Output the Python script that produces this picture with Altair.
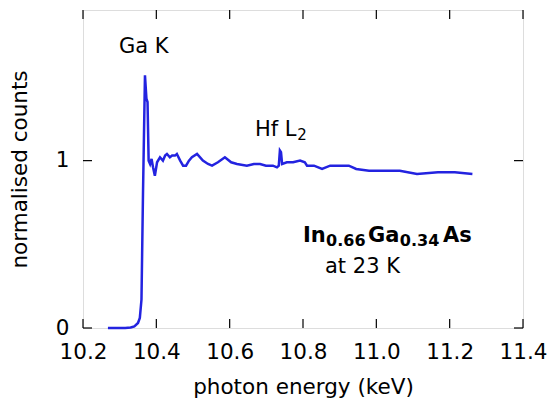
import altair as alt
import pandas as pd

# spectrum (photon energy keV, normalised counts)
energy = [10.268, 10.287, 10.315, 10.330, 10.340, 10.350, 10.355, 10.3595, 10.3636, 10.369,
          10.373, 10.376, 10.379, 10.383, 10.387, 10.391, 10.396, 10.402, 10.410,
          10.418, 10.424, 10.429, 10.437, 10.443, 10.451, 10.456, 10.465, 10.473,
          10.481, 10.489, 10.497, 10.511, 10.527, 10.541, 10.552, 10.568, 10.587,
          10.604, 10.620, 10.647, 10.666, 10.683, 10.699, 10.718, 10.729, 10.734,
          10.737, 10.740, 10.743, 10.756, 10.773, 10.792, 10.805, 10.811, 10.830,
          10.852, 10.874, 10.898, 10.925, 10.945, 10.980, 11.026, 11.064, 11.111,
          11.168, 11.214, 11.262]
counts = [0.0, 0.0, 0.0, 0.003, 0.01, 0.03, 0.06, 0.17, 0.80, 1.51,
          1.37, 1.35, 1.00, 0.98, 1.01, 0.96, 0.91, 0.99, 1.02,
          1.00, 1.03, 1.04, 1.02, 1.03, 1.03, 1.04, 1.00, 0.97,
          0.97, 1.00, 1.02, 1.04, 1.00, 0.98, 0.97, 0.99, 1.02,
          0.99, 0.98, 0.97, 0.98, 0.98, 0.97, 0.97, 0.96, 0.97,
          1.06, 1.05, 0.98, 0.99, 0.99, 1.00, 0.99, 0.97, 0.97,
          0.95, 0.97, 0.97, 0.97, 0.95, 0.94, 0.94, 0.94, 0.92,
          0.93, 0.93, 0.92]

x_ticks = [10.2, 10.4, 10.6, 10.8, 11.0, 11.2, 11.4]
y_ticks = [0, 1]

# annotations
ann_text = ["Ga K", "Hf L", "2", "In", "0.66", "Ga", "0.34", "As", "at 23 K"]
ann_x = [10.298, 10.669, 10.784, 10.800, 10.863, 10.977, 11.064, 11.182, 10.860]
ann_y = [1.643, 1.149, 1.125, 0.512, 0.488, 0.512, 0.488, 0.512, 0.327]
ann_size = [21, 21, 15, 21, 16, 21, 16, 21, 21]
ann_weight = ["normal", "normal", "normal", "bold", "bold", "bold", "bold", "bold", "normal"]

W, H = 440, 318
FONT = "DejaVu Sans"
FS = 21.5

df = pd.DataFrame({"E": energy, "c": counts})
xdf = pd.DataFrame({"t": x_ticks})
ydf = pd.DataFrame({"t": y_ticks})
adf = pd.DataFrame({"text": ann_text, "x": ann_x, "y": ann_y,
                    "size": ann_size, "weight": ann_weight})

xs = alt.Scale(domain=[10.2, 11.4], nice=False, zero=False)
ys = alt.Scale(domain=[0, 1.9], nice=False)

line = alt.Chart(df).mark_line(color="#2323e0", strokeWidth=2.5).encode(
    x=alt.X("E:Q", scale=xs, title="photon energy (keV)",
            axis=alt.Axis(values=x_ticks, format=".1f", tickSize=0, domain=False,
                          grid=False, labelFontSize=FS, labelFont=FONT,
                          labelColor="black", labelPadding=13, labelFlush=False,
                          labelOverlap=False,
                          titleFont=FONT, titleFontSize=FS, titleFontWeight="normal",
                          titleColor="black", titlePadding=14)),
    y=alt.Y("c:Q", scale=ys, title="normalised counts",
            axis=alt.Axis(values=y_ticks, format="d", tickSize=0, domain=False,
                          grid=False, labelFontSize=FS, labelFont=FONT,
                          labelColor="black", labelPadding=14, labelFlush=False,
                          titleFont=FONT, titleFontSize=FS, titleFontWeight="normal",
                          titleColor="black", titlePadding=24)),
)

tick_len = 9
xb = alt.Chart(xdf).mark_rule(color="black", strokeWidth=1.2).encode(
    x=alt.X("t:Q", scale=xs), y=alt.value(H), y2=alt.value(H - tick_len))
xt = alt.Chart(xdf).mark_rule(color="black", strokeWidth=1.2).encode(
    x=alt.X("t:Q", scale=xs), y=alt.value(0), y2=alt.value(tick_len))
yl = alt.Chart(ydf).mark_rule(color="black", strokeWidth=1.2).encode(
    y=alt.Y("t:Q", scale=ys), x=alt.value(0), x2=alt.value(tick_len))
yr = alt.Chart(ydf).mark_rule(color="black", strokeWidth=1.2).encode(
    y=alt.Y("t:Q", scale=ys), x=alt.value(W), x2=alt.value(W - tick_len))

texts = []
for wt in ["normal", "bold"]:
    for sz in sorted(set(ann_size)):
        sub = adf[(adf["weight"] == wt) & (adf["size"] == sz)]
        if len(sub) == 0:
            continue
        texts.append(alt.Chart(sub).mark_text(
            align="left", baseline="alphabetic", font=FONT, fontSize=sz,
            fontWeight=wt, color="black").encode(
            x=alt.X("x:Q", scale=xs), y=alt.Y("y:Q", scale=ys), text="text:N"))

chart = alt.layer(line, xb, xt, yl, yr, *texts).properties(
    width=W, height=H,
    autosize=alt.AutoSizeParams(type="none"),
    padding={"left": 83, "top": 10, "right": 24, "bottom": 73},
).configure_view(stroke="black", strokeWidth=1.5).configure(background="white")

chart.save("out.html", embed_options={"renderer": "svg", "actions": False})
